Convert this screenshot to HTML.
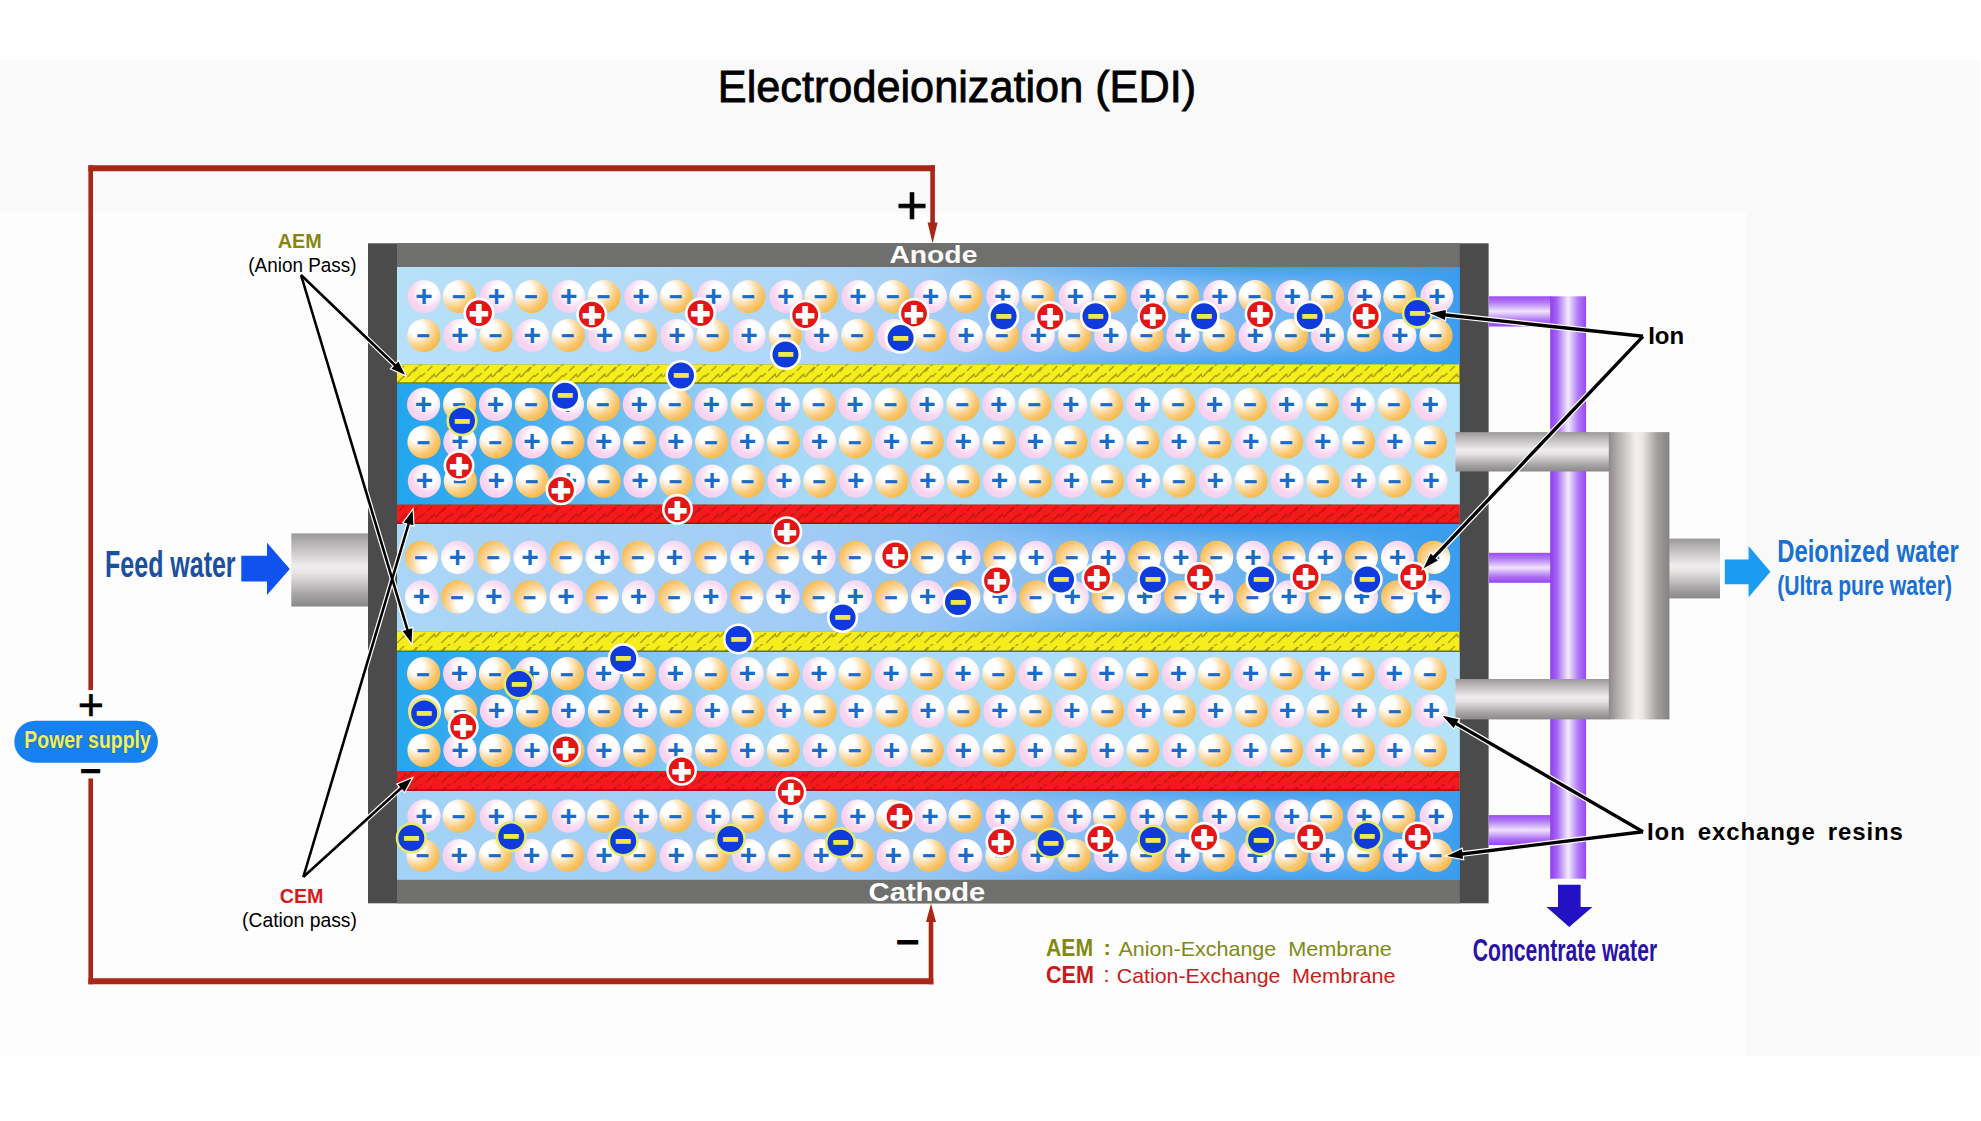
<!DOCTYPE html>
<html lang="en"><head><meta charset="utf-8"><title>Electrodeionization (EDI)</title>
<style>html,body{margin:0;padding:0;background:#fff}body{width:1981px;height:1121px;overflow:hidden}svg{display:block}text{font-family:"Liberation Sans",sans-serif}</style></head><body>
<svg width="1981" height="1121" viewBox="0 0 1981 1121">
<defs>
<radialGradient id="gp" cx="0.62" cy="0.36" r="0.62"><stop offset="0" stop-color="#fff"/><stop offset="0.38" stop-color="#fff"/><stop offset="0.8" stop-color="#f9d6f1"/><stop offset="1" stop-color="#f6d2ee"/></radialGradient>
<radialGradient id="gm" cx="0.3" cy="0.3" r="0.74"><stop offset="0" stop-color="#fff"/><stop offset="0.28" stop-color="#fff"/><stop offset="0.55" stop-color="#fce0b0"/><stop offset="0.78" stop-color="#fac874"/><stop offset="1" stop-color="#f8ba4e"/></radialGradient>
<radialGradient id="gp2" cx="0.38" cy="0.64" r="0.66"><stop offset="0" stop-color="#fff"/><stop offset="0.45" stop-color="#fff"/><stop offset="0.85" stop-color="#f9dcf2"/><stop offset="1" stop-color="#f7d6ef"/></radialGradient>
<radialGradient id="gm2" cx="0.7" cy="0.7" r="0.78"><stop offset="0" stop-color="#fff"/><stop offset="0.3" stop-color="#fff"/><stop offset="0.58" stop-color="#fbdca8"/><stop offset="0.84" stop-color="#f9c670"/><stop offset="1" stop-color="#f7ba52"/></radialGradient>
<linearGradient id="c1" x1="0" x2="1" y1="0" y2="0"><stop offset="0" stop-color="#b6e1f8"/><stop offset="0.4" stop-color="#b0d6f7"/><stop offset="0.6" stop-color="#98c8f5"/><stop offset="0.75" stop-color="#84bdf3"/><stop offset="0.9" stop-color="#6ab2f1"/><stop offset="0.97" stop-color="#4aa4ef"/><stop offset="1" stop-color="#3a9cee"/></linearGradient>
<linearGradient id="c2" x1="0" x2="1" y1="0" y2="0"><stop offset="0" stop-color="#20a6ee"/><stop offset="0.07" stop-color="#38a9ee"/><stop offset="0.15" stop-color="#52b1ef"/><stop offset="0.25" stop-color="#84c6f3"/><stop offset="0.38" stop-color="#a6d9f6"/><stop offset="1" stop-color="#b4e2f8"/></linearGradient>
<linearGradient id="c3" x1="0" x2="1" y1="0" y2="0"><stop offset="0" stop-color="#aad6f6"/><stop offset="0.35" stop-color="#a4cdf6"/><stop offset="0.55" stop-color="#92c3f4"/><stop offset="0.72" stop-color="#78b8f2"/><stop offset="0.88" stop-color="#62aef0"/><stop offset="0.96" stop-color="#46a2ee"/><stop offset="1" stop-color="#3a9cee"/></linearGradient>
<linearGradient id="c4" x1="0" x2="1" y1="0" y2="0"><stop offset="0" stop-color="#24a7ee"/><stop offset="0.07" stop-color="#3aaaee"/><stop offset="0.15" stop-color="#54b2ef"/><stop offset="0.25" stop-color="#86c7f3"/><stop offset="0.36" stop-color="#a8daf7"/><stop offset="1" stop-color="#b4e2f8"/></linearGradient>
<linearGradient id="c5" x1="0" x2="1" y1="0" y2="0"><stop offset="0" stop-color="#a2d3f6"/><stop offset="0.35" stop-color="#a2ccf5"/><stop offset="0.58" stop-color="#92c3f4"/><stop offset="0.75" stop-color="#7ebaf2"/><stop offset="0.9" stop-color="#66b0f0"/><stop offset="0.97" stop-color="#48a3ef"/><stop offset="1" stop-color="#3a9cee"/></linearGradient>
<linearGradient id="pgv" x1="0" x2="0" y1="0" y2="1"><stop offset="0" stop-color="#999797"/><stop offset="0.12" stop-color="#b3b1b1"/><stop offset="0.45" stop-color="#efeded"/><stop offset="0.55" stop-color="#e6e3e3"/><stop offset="0.85" stop-color="#a3a1a1"/><stop offset="1" stop-color="#8a8888"/></linearGradient>
<linearGradient id="pgh" x1="0" x2="1" y1="0" y2="0"><stop offset="0" stop-color="#8d8989"/><stop offset="0.15" stop-color="#b3afaf"/><stop offset="0.45" stop-color="#f6efef"/><stop offset="0.55" stop-color="#eee6e6"/><stop offset="0.8" stop-color="#a29e9e"/><stop offset="1" stop-color="#858282"/></linearGradient>
<linearGradient id="ppv" x1="0" x2="0" y1="0" y2="1"><stop offset="0" stop-color="#9a4cf2"/><stop offset="0.2" stop-color="#b27af5"/><stop offset="0.5" stop-color="#f1e4fd"/><stop offset="0.8" stop-color="#ad70f4"/><stop offset="1" stop-color="#9746f0"/></linearGradient>
<linearGradient id="pph" x1="0" x2="1" y1="0" y2="0"><stop offset="0" stop-color="#8e3ef0"/><stop offset="0.18" stop-color="#a462f3"/><stop offset="0.5" stop-color="#f4eafe"/><stop offset="0.78" stop-color="#b07af5"/><stop offset="1" stop-color="#9848f0"/></linearGradient>
<pattern id="ty" width="28.4" height="20" patternUnits="userSpaceOnUse" x="397" y="364"><path d="M0 19 L8 11 M6 14 l3 -4 l1 3 l3 -2 M12 11 L20 3 M17 8 l4 -5 M22 2 l3 -2 M16 19 L24 11 M24 13 l4 -4 M2 7 l5 -5" stroke="#5f5e00" stroke-width="1.1" fill="none" opacity="0.6"/></pattern>
<pattern id="tr" width="28.4" height="20" patternUnits="userSpaceOnUse" x="397" y="504"><path d="M0 19 L8 11 M6 14 l3 -4 l1 3 l3 -2 M12 11 L20 3 M17 8 l4 -5 M22 2 l3 -2 M16 19 L24 11 M24 13 l4 -4 M2 7 l5 -5" stroke="#a00a0a" stroke-width="1.1" fill="none" opacity="0.6"/></pattern>
<linearGradient id="ve" x1="0" x2="0" y1="0" y2="1"><stop offset="0" stop-color="#3a9cee" stop-opacity="0.85"/><stop offset="0.22" stop-color="#3a9cee" stop-opacity="0"/><stop offset="0.78" stop-color="#3a9cee" stop-opacity="0"/><stop offset="1" stop-color="#3a9cee" stop-opacity="0.85"/></linearGradient>
<linearGradient id="hm" x1="0" x2="1" y1="0" y2="0"><stop offset="0" stop-color="#000"/><stop offset="0.5" stop-color="#000"/><stop offset="0.8" stop-color="#fff"/><stop offset="1" stop-color="#fff"/></linearGradient>
<mask id="mk" maskUnits="userSpaceOnUse" x="397" y="243" width="1063" height="660"><rect x="397" y="243" width="1063" height="660" fill="url(#hm)"/></mask>
<filter id="soft" x="-5%" y="-5%" width="110%" height="110%"><feGaussianBlur stdDeviation="0.6"/></filter>
</defs>
<rect x="0" y="0" width="1981" height="1121" fill="#ffffff"/>
<rect x="0" y="60" width="1980" height="996" fill="#f9f9f9"/>
<rect x="0" y="212.5" width="1746" height="843.5" fill="#fdfdfd"/>
<path d="M90.7 690 V165.3 M932.6 165.3 V226 M90.7 778.5 V984.2 M931 984.2 V920" fill="none" stroke="#aa2616" stroke-width="4.6"/>
<path d="M88.4 168.3 H934.9 M88.4 981.3 H933.3" fill="none" stroke="#aa2616" stroke-width="6"/>
<path d="M927.6 222.5 L937.6 222.5 L932.6 243.5 Z" fill="#aa2616"/>
<path d="M926 922 L936 922 L931 903.5 Z" fill="#aa2616"/>
<rect x="1489" y="296.3" width="62" height="30.2" fill="url(#ppv)"/>
<rect x="1489" y="552.8" width="62" height="30" fill="url(#ppv)"/>
<rect x="1489" y="815.1" width="62" height="30" fill="url(#ppv)"/>
<rect x="1550.2" y="296.3" width="35.9" height="582.4" fill="url(#pph)"/>
<rect x="291.3" y="533.4" width="77" height="73.1" fill="url(#pgv)"/>
<rect x="1669" y="538.6" width="51" height="59.8" fill="url(#pgv)"/>
<rect x="368" y="243.3" width="1120.6" height="660" fill="#4b4b4b"/>
<rect x="397" y="243.3" width="1062.8" height="660" fill="#6f6f6d"/>
<rect x="397" y="267" width="1062.8" height="97.4" fill="url(#c1)"/>
<rect x="397" y="383.8" width="1062.8" height="120.8" fill="url(#c2)"/>
<rect x="397" y="524" width="1062.8" height="107.8" fill="url(#c3)"/>
<rect x="397" y="652" width="1062.8" height="119" fill="url(#c4)"/>
<rect x="397" y="790.8" width="1062.8" height="89" fill="url(#c5)"/>
<g mask="url(#mk)">
<rect x="397" y="267" width="1062.8" height="97.4" fill="url(#ve)"/>
<rect x="397" y="524" width="1062.8" height="107.8" fill="url(#ve)"/>
<rect x="397" y="790.8" width="1062.8" height="89" fill="url(#ve)"/>
</g>
<rect x="397" y="364.4" width="1062.3" height="19.4" fill="#f6ee1c"/>
<rect x="397" y="364.4" width="1062.3" height="19.4" fill="url(#ty)"/>
<rect x="397" y="382.3" width="1062.3" height="1.5" fill="#5d7a1a"/>
<rect x="397" y="504.6" width="1062.3" height="19.4" fill="#f21a1a"/>
<rect x="397" y="504.6" width="1062.3" height="19.4" fill="url(#tr)"/>
<rect x="397" y="522.5" width="1062.3" height="1.5" fill="#9c1414"/>
<rect x="397" y="631.8" width="1062.3" height="20.2" fill="#f6ee1c"/>
<rect x="397" y="631.8" width="1062.3" height="20.2" fill="url(#ty)"/>
<rect x="397" y="650.5" width="1062.3" height="1.5" fill="#5d7a1a"/>
<rect x="397" y="771" width="1062.3" height="19.8" fill="#f21a1a"/>
<rect x="397" y="771" width="1062.3" height="19.8" fill="url(#tr)"/>
<rect x="397" y="789.3" width="1062.3" height="1.5" fill="#9c1414"/>
<rect x="1455.5" y="432.1" width="154" height="39.4" fill="url(#pgv)"/>
<rect x="1455.5" y="679" width="154" height="40.4" fill="url(#pgv)"/>
<rect x="1608.8" y="432.1" width="60.6" height="287.3" fill="url(#pgh)"/>
<g filter="url(#soft)">
<circle cx="424" cy="296.5" r="16.6" fill="url(#gp)"/>
<circle cx="459.3" cy="296.5" r="16.6" fill="url(#gm)"/>
<circle cx="496.4" cy="296.5" r="16.6" fill="url(#gp)"/>
<circle cx="531.6" cy="296.5" r="16.6" fill="url(#gm)"/>
<circle cx="568.7" cy="296.5" r="16.6" fill="url(#gp)"/>
<circle cx="604" cy="296.5" r="16.6" fill="url(#gm)"/>
<circle cx="641" cy="296.5" r="16.6" fill="url(#gp)"/>
<circle cx="676.4" cy="296.5" r="16.6" fill="url(#gm)"/>
<circle cx="713.4" cy="296.5" r="16.6" fill="url(#gp)"/>
<circle cx="748.7" cy="296.5" r="16.6" fill="url(#gm)"/>
<circle cx="785.8" cy="296.5" r="16.6" fill="url(#gp)"/>
<circle cx="821" cy="296.5" r="16.6" fill="url(#gm)"/>
<circle cx="858.1" cy="296.5" r="16.6" fill="url(#gp)"/>
<circle cx="893.4" cy="296.5" r="16.6" fill="url(#gm)"/>
<circle cx="930.4" cy="296.5" r="16.6" fill="url(#gp)"/>
<circle cx="965.8" cy="296.5" r="16.6" fill="url(#gm)"/>
<circle cx="1002.8" cy="296.5" r="16.6" fill="url(#gp)"/>
<circle cx="1038.1" cy="296.5" r="16.6" fill="url(#gm)"/>
<circle cx="1075.2" cy="296.5" r="16.6" fill="url(#gp)"/>
<circle cx="1110.5" cy="296.5" r="16.6" fill="url(#gm)"/>
<circle cx="1147.5" cy="296.5" r="16.6" fill="url(#gp)"/>
<circle cx="1182.8" cy="296.5" r="16.6" fill="url(#gm)"/>
<circle cx="1219.8" cy="296.5" r="16.6" fill="url(#gp)"/>
<circle cx="1255.1" cy="296.5" r="16.6" fill="url(#gm)"/>
<circle cx="1292.2" cy="296.5" r="16.6" fill="url(#gp)"/>
<circle cx="1327.5" cy="296.5" r="16.6" fill="url(#gm)"/>
<circle cx="1364.5" cy="296.5" r="16.6" fill="url(#gp)"/>
<circle cx="1399.8" cy="296.5" r="16.6" fill="url(#gm)"/>
<circle cx="1436.9" cy="296.5" r="16.6" fill="url(#gp)"/>
<circle cx="423.8" cy="335.5" r="16.6" fill="url(#gm)"/>
<circle cx="459.9" cy="335.5" r="16.6" fill="url(#gp)"/>
<circle cx="496.1" cy="335.5" r="16.6" fill="url(#gm)"/>
<circle cx="532.2" cy="335.5" r="16.6" fill="url(#gp)"/>
<circle cx="568.4" cy="335.5" r="16.6" fill="url(#gm)"/>
<circle cx="604.5" cy="335.5" r="16.6" fill="url(#gp)"/>
<circle cx="640.7" cy="335.5" r="16.6" fill="url(#gm)"/>
<circle cx="676.9" cy="335.5" r="16.6" fill="url(#gp)"/>
<circle cx="713" cy="335.5" r="16.6" fill="url(#gm)"/>
<circle cx="749.1" cy="335.5" r="16.6" fill="url(#gp)"/>
<circle cx="785.3" cy="335.5" r="16.6" fill="url(#gm)"/>
<circle cx="821.5" cy="335.5" r="16.6" fill="url(#gp)"/>
<circle cx="857.6" cy="335.5" r="16.6" fill="url(#gm)"/>
<circle cx="893.8" cy="335.5" r="16.6" fill="url(#gp)"/>
<circle cx="929.9" cy="335.5" r="16.6" fill="url(#gm)"/>
<circle cx="966" cy="335.5" r="16.6" fill="url(#gp)"/>
<circle cx="1002.2" cy="335.5" r="16.6" fill="url(#gm)"/>
<circle cx="1038.3" cy="335.5" r="16.6" fill="url(#gp)"/>
<circle cx="1074.5" cy="335.5" r="16.6" fill="url(#gm)"/>
<circle cx="1110.7" cy="335.5" r="16.6" fill="url(#gp)"/>
<circle cx="1146.8" cy="335.5" r="16.6" fill="url(#gm)"/>
<circle cx="1183" cy="335.5" r="16.6" fill="url(#gp)"/>
<circle cx="1219.1" cy="335.5" r="16.6" fill="url(#gm)"/>
<circle cx="1255.2" cy="335.5" r="16.6" fill="url(#gp)"/>
<circle cx="1291.4" cy="335.5" r="16.6" fill="url(#gm)"/>
<circle cx="1327.5" cy="335.5" r="16.6" fill="url(#gp)"/>
<circle cx="1363.7" cy="335.5" r="16.6" fill="url(#gm)"/>
<circle cx="1399.8" cy="335.5" r="16.6" fill="url(#gp)"/>
<circle cx="1436" cy="335.5" r="16.6" fill="url(#gm)"/>
<circle cx="423.6" cy="404.4" r="16.6" fill="url(#gp)"/>
<circle cx="459.6" cy="404.4" r="16.6" fill="url(#gm)"/>
<circle cx="495.5" cy="404.4" r="16.6" fill="url(#gp)"/>
<circle cx="531.5" cy="404.4" r="16.6" fill="url(#gm)"/>
<circle cx="567.4" cy="404.4" r="16.6" fill="url(#gp)"/>
<circle cx="603.4" cy="404.4" r="16.6" fill="url(#gm)"/>
<circle cx="639.3" cy="404.4" r="16.6" fill="url(#gp)"/>
<circle cx="675.2" cy="404.4" r="16.6" fill="url(#gm)"/>
<circle cx="711.2" cy="404.4" r="16.6" fill="url(#gp)"/>
<circle cx="747.2" cy="404.4" r="16.6" fill="url(#gm)"/>
<circle cx="783.1" cy="404.4" r="16.6" fill="url(#gp)"/>
<circle cx="819.1" cy="404.4" r="16.6" fill="url(#gm)"/>
<circle cx="855" cy="404.4" r="16.6" fill="url(#gp)"/>
<circle cx="891" cy="404.4" r="16.6" fill="url(#gm)"/>
<circle cx="926.9" cy="404.4" r="16.6" fill="url(#gp)"/>
<circle cx="962.9" cy="404.4" r="16.6" fill="url(#gm)"/>
<circle cx="998.8" cy="404.4" r="16.6" fill="url(#gp)"/>
<circle cx="1034.8" cy="404.4" r="16.6" fill="url(#gm)"/>
<circle cx="1070.7" cy="404.4" r="16.6" fill="url(#gp)"/>
<circle cx="1106.7" cy="404.4" r="16.6" fill="url(#gm)"/>
<circle cx="1142.6" cy="404.4" r="16.6" fill="url(#gp)"/>
<circle cx="1178.6" cy="404.4" r="16.6" fill="url(#gm)"/>
<circle cx="1214.5" cy="404.4" r="16.6" fill="url(#gp)"/>
<circle cx="1250.5" cy="404.4" r="16.6" fill="url(#gm)"/>
<circle cx="1286.4" cy="404.4" r="16.6" fill="url(#gp)"/>
<circle cx="1322.4" cy="404.4" r="16.6" fill="url(#gm)"/>
<circle cx="1358.3" cy="404.4" r="16.6" fill="url(#gp)"/>
<circle cx="1394.2" cy="404.4" r="16.6" fill="url(#gm)"/>
<circle cx="1430.2" cy="404.4" r="16.6" fill="url(#gp)"/>
<circle cx="424" cy="442" r="16.6" fill="url(#gm)"/>
<circle cx="459.9" cy="442" r="16.6" fill="url(#gp)"/>
<circle cx="495.9" cy="442" r="16.6" fill="url(#gm)"/>
<circle cx="531.9" cy="442" r="16.6" fill="url(#gp)"/>
<circle cx="567.8" cy="442" r="16.6" fill="url(#gm)"/>
<circle cx="603.8" cy="442" r="16.6" fill="url(#gp)"/>
<circle cx="639.7" cy="442" r="16.6" fill="url(#gm)"/>
<circle cx="675.7" cy="442" r="16.6" fill="url(#gp)"/>
<circle cx="711.6" cy="442" r="16.6" fill="url(#gm)"/>
<circle cx="747.5" cy="442" r="16.6" fill="url(#gp)"/>
<circle cx="783.5" cy="442" r="16.6" fill="url(#gm)"/>
<circle cx="819.5" cy="442" r="16.6" fill="url(#gp)"/>
<circle cx="855.4" cy="442" r="16.6" fill="url(#gm)"/>
<circle cx="891.4" cy="442" r="16.6" fill="url(#gp)"/>
<circle cx="927.3" cy="442" r="16.6" fill="url(#gm)"/>
<circle cx="963.2" cy="442" r="16.6" fill="url(#gp)"/>
<circle cx="999.2" cy="442" r="16.6" fill="url(#gm)"/>
<circle cx="1035.2" cy="442" r="16.6" fill="url(#gp)"/>
<circle cx="1071.1" cy="442" r="16.6" fill="url(#gm)"/>
<circle cx="1107.1" cy="442" r="16.6" fill="url(#gp)"/>
<circle cx="1143" cy="442" r="16.6" fill="url(#gm)"/>
<circle cx="1179" cy="442" r="16.6" fill="url(#gp)"/>
<circle cx="1214.9" cy="442" r="16.6" fill="url(#gm)"/>
<circle cx="1250.8" cy="442" r="16.6" fill="url(#gp)"/>
<circle cx="1286.8" cy="442" r="16.6" fill="url(#gm)"/>
<circle cx="1322.8" cy="442" r="16.6" fill="url(#gp)"/>
<circle cx="1358.7" cy="442" r="16.6" fill="url(#gm)"/>
<circle cx="1394.7" cy="442" r="16.6" fill="url(#gp)"/>
<circle cx="1430.6" cy="442" r="16.6" fill="url(#gm)"/>
<circle cx="424.4" cy="481.1" r="16.6" fill="url(#gp)"/>
<circle cx="460.3" cy="481.1" r="16.6" fill="url(#gm)"/>
<circle cx="496.3" cy="481.1" r="16.6" fill="url(#gp)"/>
<circle cx="532.2" cy="481.1" r="16.6" fill="url(#gm)"/>
<circle cx="568.2" cy="481.1" r="16.6" fill="url(#gp)"/>
<circle cx="604.1" cy="481.1" r="16.6" fill="url(#gm)"/>
<circle cx="640.1" cy="481.1" r="16.6" fill="url(#gp)"/>
<circle cx="676" cy="481.1" r="16.6" fill="url(#gm)"/>
<circle cx="712" cy="481.1" r="16.6" fill="url(#gp)"/>
<circle cx="748" cy="481.1" r="16.6" fill="url(#gm)"/>
<circle cx="783.9" cy="481.1" r="16.6" fill="url(#gp)"/>
<circle cx="819.9" cy="481.1" r="16.6" fill="url(#gm)"/>
<circle cx="855.8" cy="481.1" r="16.6" fill="url(#gp)"/>
<circle cx="891.8" cy="481.1" r="16.6" fill="url(#gm)"/>
<circle cx="927.7" cy="481.1" r="16.6" fill="url(#gp)"/>
<circle cx="963.6" cy="481.1" r="16.6" fill="url(#gm)"/>
<circle cx="999.6" cy="481.1" r="16.6" fill="url(#gp)"/>
<circle cx="1035.6" cy="481.1" r="16.6" fill="url(#gm)"/>
<circle cx="1071.5" cy="481.1" r="16.6" fill="url(#gp)"/>
<circle cx="1107.5" cy="481.1" r="16.6" fill="url(#gm)"/>
<circle cx="1143.4" cy="481.1" r="16.6" fill="url(#gp)"/>
<circle cx="1179.3" cy="481.1" r="16.6" fill="url(#gm)"/>
<circle cx="1215.3" cy="481.1" r="16.6" fill="url(#gp)"/>
<circle cx="1251.2" cy="481.1" r="16.6" fill="url(#gm)"/>
<circle cx="1287.2" cy="481.1" r="16.6" fill="url(#gp)"/>
<circle cx="1323.2" cy="481.1" r="16.6" fill="url(#gm)"/>
<circle cx="1359.1" cy="481.1" r="16.6" fill="url(#gp)"/>
<circle cx="1395.1" cy="481.1" r="16.6" fill="url(#gm)"/>
<circle cx="1431" cy="481.1" r="16.6" fill="url(#gp)"/>
<circle cx="421.5" cy="557.3" r="16.6" fill="url(#gm2)"/>
<circle cx="457.6" cy="557.3" r="16.6" fill="url(#gp2)"/>
<circle cx="493.8" cy="557.3" r="16.6" fill="url(#gm2)"/>
<circle cx="530" cy="557.3" r="16.6" fill="url(#gp2)"/>
<circle cx="566.1" cy="557.3" r="16.6" fill="url(#gm2)"/>
<circle cx="602.2" cy="557.3" r="16.6" fill="url(#gp2)"/>
<circle cx="638.4" cy="557.3" r="16.6" fill="url(#gm2)"/>
<circle cx="674.5" cy="557.3" r="16.6" fill="url(#gp2)"/>
<circle cx="710.7" cy="557.3" r="16.6" fill="url(#gm2)"/>
<circle cx="746.8" cy="557.3" r="16.6" fill="url(#gp2)"/>
<circle cx="783" cy="557.3" r="16.6" fill="url(#gm2)"/>
<circle cx="819.1" cy="557.3" r="16.6" fill="url(#gp2)"/>
<circle cx="855.3" cy="557.3" r="16.6" fill="url(#gm2)"/>
<circle cx="891.5" cy="557.3" r="16.6" fill="url(#gp2)"/>
<circle cx="927.6" cy="557.3" r="16.6" fill="url(#gm2)"/>
<circle cx="963.8" cy="557.3" r="16.6" fill="url(#gp2)"/>
<circle cx="999.9" cy="557.3" r="16.6" fill="url(#gm2)"/>
<circle cx="1036" cy="557.3" r="16.6" fill="url(#gp2)"/>
<circle cx="1072.2" cy="557.3" r="16.6" fill="url(#gm2)"/>
<circle cx="1108.3" cy="557.3" r="16.6" fill="url(#gp2)"/>
<circle cx="1144.5" cy="557.3" r="16.6" fill="url(#gm2)"/>
<circle cx="1180.7" cy="557.3" r="16.6" fill="url(#gp2)"/>
<circle cx="1216.8" cy="557.3" r="16.6" fill="url(#gm2)"/>
<circle cx="1252.9" cy="557.3" r="16.6" fill="url(#gp2)"/>
<circle cx="1289.1" cy="557.3" r="16.6" fill="url(#gm2)"/>
<circle cx="1325.2" cy="557.3" r="16.6" fill="url(#gp2)"/>
<circle cx="1361.4" cy="557.3" r="16.6" fill="url(#gm2)"/>
<circle cx="1397.5" cy="557.3" r="16.6" fill="url(#gp2)"/>
<circle cx="1433.7" cy="557.3" r="16.6" fill="url(#gm2)"/>
<circle cx="421.5" cy="596.9" r="16.6" fill="url(#gp2)"/>
<circle cx="457.6" cy="596.9" r="16.6" fill="url(#gm2)"/>
<circle cx="493.8" cy="596.9" r="16.6" fill="url(#gp2)"/>
<circle cx="530" cy="596.9" r="16.6" fill="url(#gm2)"/>
<circle cx="566.1" cy="596.9" r="16.6" fill="url(#gp2)"/>
<circle cx="602.2" cy="596.9" r="16.6" fill="url(#gm2)"/>
<circle cx="638.4" cy="596.9" r="16.6" fill="url(#gp2)"/>
<circle cx="674.5" cy="596.9" r="16.6" fill="url(#gm2)"/>
<circle cx="710.7" cy="596.9" r="16.6" fill="url(#gp2)"/>
<circle cx="746.8" cy="596.9" r="16.6" fill="url(#gm2)"/>
<circle cx="783" cy="596.9" r="16.6" fill="url(#gp2)"/>
<circle cx="819.1" cy="596.9" r="16.6" fill="url(#gm2)"/>
<circle cx="855.3" cy="596.9" r="16.6" fill="url(#gp2)"/>
<circle cx="891.5" cy="596.9" r="16.6" fill="url(#gm2)"/>
<circle cx="927.6" cy="596.9" r="16.6" fill="url(#gp2)"/>
<circle cx="963.8" cy="596.9" r="16.6" fill="url(#gm2)"/>
<circle cx="999.9" cy="596.9" r="16.6" fill="url(#gp2)"/>
<circle cx="1036" cy="596.9" r="16.6" fill="url(#gm2)"/>
<circle cx="1072.2" cy="596.9" r="16.6" fill="url(#gp2)"/>
<circle cx="1108.3" cy="596.9" r="16.6" fill="url(#gm2)"/>
<circle cx="1144.5" cy="596.9" r="16.6" fill="url(#gp2)"/>
<circle cx="1180.7" cy="596.9" r="16.6" fill="url(#gm2)"/>
<circle cx="1216.8" cy="596.9" r="16.6" fill="url(#gp2)"/>
<circle cx="1252.9" cy="596.9" r="16.6" fill="url(#gm2)"/>
<circle cx="1289.1" cy="596.9" r="16.6" fill="url(#gp2)"/>
<circle cx="1325.2" cy="596.9" r="16.6" fill="url(#gm2)"/>
<circle cx="1361.4" cy="596.9" r="16.6" fill="url(#gp2)"/>
<circle cx="1397.5" cy="596.9" r="16.6" fill="url(#gm2)"/>
<circle cx="1433.7" cy="596.9" r="16.6" fill="url(#gp2)"/>
<circle cx="423.6" cy="673.7" r="16.6" fill="url(#gm)"/>
<circle cx="459.6" cy="673.7" r="16.6" fill="url(#gp)"/>
<circle cx="495.5" cy="673.7" r="16.6" fill="url(#gm)"/>
<circle cx="531.5" cy="673.7" r="16.6" fill="url(#gp)"/>
<circle cx="567.4" cy="673.7" r="16.6" fill="url(#gm)"/>
<circle cx="603.4" cy="673.7" r="16.6" fill="url(#gp)"/>
<circle cx="639.3" cy="673.7" r="16.6" fill="url(#gm)"/>
<circle cx="675.2" cy="673.7" r="16.6" fill="url(#gp)"/>
<circle cx="711.2" cy="673.7" r="16.6" fill="url(#gm)"/>
<circle cx="747.2" cy="673.7" r="16.6" fill="url(#gp)"/>
<circle cx="783.1" cy="673.7" r="16.6" fill="url(#gm)"/>
<circle cx="819.1" cy="673.7" r="16.6" fill="url(#gp)"/>
<circle cx="855" cy="673.7" r="16.6" fill="url(#gm)"/>
<circle cx="891" cy="673.7" r="16.6" fill="url(#gp)"/>
<circle cx="926.9" cy="673.7" r="16.6" fill="url(#gm)"/>
<circle cx="962.9" cy="673.7" r="16.6" fill="url(#gp)"/>
<circle cx="998.8" cy="673.7" r="16.6" fill="url(#gm)"/>
<circle cx="1034.8" cy="673.7" r="16.6" fill="url(#gp)"/>
<circle cx="1070.7" cy="673.7" r="16.6" fill="url(#gm)"/>
<circle cx="1106.7" cy="673.7" r="16.6" fill="url(#gp)"/>
<circle cx="1142.6" cy="673.7" r="16.6" fill="url(#gm)"/>
<circle cx="1178.6" cy="673.7" r="16.6" fill="url(#gp)"/>
<circle cx="1214.5" cy="673.7" r="16.6" fill="url(#gm)"/>
<circle cx="1250.5" cy="673.7" r="16.6" fill="url(#gp)"/>
<circle cx="1286.4" cy="673.7" r="16.6" fill="url(#gm)"/>
<circle cx="1322.4" cy="673.7" r="16.6" fill="url(#gp)"/>
<circle cx="1358.3" cy="673.7" r="16.6" fill="url(#gm)"/>
<circle cx="1394.2" cy="673.7" r="16.6" fill="url(#gp)"/>
<circle cx="1430.2" cy="673.7" r="16.6" fill="url(#gm)"/>
<circle cx="424.6" cy="711" r="16.6" fill="url(#gp)"/>
<circle cx="460.6" cy="711" r="16.6" fill="url(#gm)"/>
<circle cx="496.5" cy="711" r="16.6" fill="url(#gp)"/>
<circle cx="532.5" cy="711" r="16.6" fill="url(#gm)"/>
<circle cx="568.4" cy="711" r="16.6" fill="url(#gp)"/>
<circle cx="604.4" cy="711" r="16.6" fill="url(#gm)"/>
<circle cx="640.3" cy="711" r="16.6" fill="url(#gp)"/>
<circle cx="676.2" cy="711" r="16.6" fill="url(#gm)"/>
<circle cx="712.2" cy="711" r="16.6" fill="url(#gp)"/>
<circle cx="748.2" cy="711" r="16.6" fill="url(#gm)"/>
<circle cx="784.1" cy="711" r="16.6" fill="url(#gp)"/>
<circle cx="820.1" cy="711" r="16.6" fill="url(#gm)"/>
<circle cx="856" cy="711" r="16.6" fill="url(#gp)"/>
<circle cx="892" cy="711" r="16.6" fill="url(#gm)"/>
<circle cx="927.9" cy="711" r="16.6" fill="url(#gp)"/>
<circle cx="963.9" cy="711" r="16.6" fill="url(#gm)"/>
<circle cx="999.8" cy="711" r="16.6" fill="url(#gp)"/>
<circle cx="1035.8" cy="711" r="16.6" fill="url(#gm)"/>
<circle cx="1071.7" cy="711" r="16.6" fill="url(#gp)"/>
<circle cx="1107.7" cy="711" r="16.6" fill="url(#gm)"/>
<circle cx="1143.6" cy="711" r="16.6" fill="url(#gp)"/>
<circle cx="1179.6" cy="711" r="16.6" fill="url(#gm)"/>
<circle cx="1215.5" cy="711" r="16.6" fill="url(#gp)"/>
<circle cx="1251.5" cy="711" r="16.6" fill="url(#gm)"/>
<circle cx="1287.4" cy="711" r="16.6" fill="url(#gp)"/>
<circle cx="1323.4" cy="711" r="16.6" fill="url(#gm)"/>
<circle cx="1359.3" cy="711" r="16.6" fill="url(#gp)"/>
<circle cx="1395.2" cy="711" r="16.6" fill="url(#gm)"/>
<circle cx="1431.2" cy="711" r="16.6" fill="url(#gp)"/>
<circle cx="424" cy="750.3" r="16.6" fill="url(#gm)"/>
<circle cx="459.9" cy="750.3" r="16.6" fill="url(#gp)"/>
<circle cx="495.9" cy="750.3" r="16.6" fill="url(#gm)"/>
<circle cx="531.9" cy="750.3" r="16.6" fill="url(#gp)"/>
<circle cx="567.8" cy="750.3" r="16.6" fill="url(#gm)"/>
<circle cx="603.8" cy="750.3" r="16.6" fill="url(#gp)"/>
<circle cx="639.7" cy="750.3" r="16.6" fill="url(#gm)"/>
<circle cx="675.7" cy="750.3" r="16.6" fill="url(#gp)"/>
<circle cx="711.6" cy="750.3" r="16.6" fill="url(#gm)"/>
<circle cx="747.5" cy="750.3" r="16.6" fill="url(#gp)"/>
<circle cx="783.5" cy="750.3" r="16.6" fill="url(#gm)"/>
<circle cx="819.5" cy="750.3" r="16.6" fill="url(#gp)"/>
<circle cx="855.4" cy="750.3" r="16.6" fill="url(#gm)"/>
<circle cx="891.4" cy="750.3" r="16.6" fill="url(#gp)"/>
<circle cx="927.3" cy="750.3" r="16.6" fill="url(#gm)"/>
<circle cx="963.2" cy="750.3" r="16.6" fill="url(#gp)"/>
<circle cx="999.2" cy="750.3" r="16.6" fill="url(#gm)"/>
<circle cx="1035.2" cy="750.3" r="16.6" fill="url(#gp)"/>
<circle cx="1071.1" cy="750.3" r="16.6" fill="url(#gm)"/>
<circle cx="1107.1" cy="750.3" r="16.6" fill="url(#gp)"/>
<circle cx="1143" cy="750.3" r="16.6" fill="url(#gm)"/>
<circle cx="1179" cy="750.3" r="16.6" fill="url(#gp)"/>
<circle cx="1214.9" cy="750.3" r="16.6" fill="url(#gm)"/>
<circle cx="1250.8" cy="750.3" r="16.6" fill="url(#gp)"/>
<circle cx="1286.8" cy="750.3" r="16.6" fill="url(#gm)"/>
<circle cx="1322.8" cy="750.3" r="16.6" fill="url(#gp)"/>
<circle cx="1358.7" cy="750.3" r="16.6" fill="url(#gm)"/>
<circle cx="1394.7" cy="750.3" r="16.6" fill="url(#gp)"/>
<circle cx="1430.6" cy="750.3" r="16.6" fill="url(#gm)"/>
<circle cx="424" cy="816.2" r="16.6" fill="url(#gp)"/>
<circle cx="459" cy="816.2" r="16.6" fill="url(#gm)"/>
<circle cx="496.3" cy="816.2" r="16.6" fill="url(#gp)"/>
<circle cx="531.3" cy="816.2" r="16.6" fill="url(#gm)"/>
<circle cx="568.6" cy="816.2" r="16.6" fill="url(#gp)"/>
<circle cx="603.6" cy="816.2" r="16.6" fill="url(#gm)"/>
<circle cx="640.9" cy="816.2" r="16.6" fill="url(#gp)"/>
<circle cx="675.9" cy="816.2" r="16.6" fill="url(#gm)"/>
<circle cx="713.2" cy="816.2" r="16.6" fill="url(#gp)"/>
<circle cx="748.2" cy="816.2" r="16.6" fill="url(#gm)"/>
<circle cx="785.5" cy="816.2" r="16.6" fill="url(#gp)"/>
<circle cx="820.5" cy="816.2" r="16.6" fill="url(#gm)"/>
<circle cx="857.8" cy="816.2" r="16.6" fill="url(#gp)"/>
<circle cx="892.8" cy="816.2" r="16.6" fill="url(#gm)"/>
<circle cx="930.1" cy="816.2" r="16.6" fill="url(#gp)"/>
<circle cx="965.1" cy="816.2" r="16.6" fill="url(#gm)"/>
<circle cx="1002.4" cy="816.2" r="16.6" fill="url(#gp)"/>
<circle cx="1037.4" cy="816.2" r="16.6" fill="url(#gm)"/>
<circle cx="1074.7" cy="816.2" r="16.6" fill="url(#gp)"/>
<circle cx="1109.7" cy="816.2" r="16.6" fill="url(#gm)"/>
<circle cx="1147" cy="816.2" r="16.6" fill="url(#gp)"/>
<circle cx="1182" cy="816.2" r="16.6" fill="url(#gm)"/>
<circle cx="1219.3" cy="816.2" r="16.6" fill="url(#gp)"/>
<circle cx="1254.3" cy="816.2" r="16.6" fill="url(#gm)"/>
<circle cx="1291.6" cy="816.2" r="16.6" fill="url(#gp)"/>
<circle cx="1326.6" cy="816.2" r="16.6" fill="url(#gm)"/>
<circle cx="1363.9" cy="816.2" r="16.6" fill="url(#gp)"/>
<circle cx="1398.9" cy="816.2" r="16.6" fill="url(#gm)"/>
<circle cx="1436.2" cy="816.2" r="16.6" fill="url(#gp)"/>
<circle cx="423" cy="855.5" r="16.6" fill="url(#gm)"/>
<circle cx="459.2" cy="855.5" r="16.6" fill="url(#gp)"/>
<circle cx="495.4" cy="855.5" r="16.6" fill="url(#gm)"/>
<circle cx="531.5" cy="855.5" r="16.6" fill="url(#gp)"/>
<circle cx="567.7" cy="855.5" r="16.6" fill="url(#gm)"/>
<circle cx="603.9" cy="855.5" r="16.6" fill="url(#gp)"/>
<circle cx="640.1" cy="855.5" r="16.6" fill="url(#gm)"/>
<circle cx="676.3" cy="855.5" r="16.6" fill="url(#gp)"/>
<circle cx="712.4" cy="855.5" r="16.6" fill="url(#gm)"/>
<circle cx="748.6" cy="855.5" r="16.6" fill="url(#gp)"/>
<circle cx="784.8" cy="855.5" r="16.6" fill="url(#gm)"/>
<circle cx="821" cy="855.5" r="16.6" fill="url(#gp)"/>
<circle cx="857.2" cy="855.5" r="16.6" fill="url(#gm)"/>
<circle cx="893.3" cy="855.5" r="16.6" fill="url(#gp)"/>
<circle cx="929.5" cy="855.5" r="16.6" fill="url(#gm)"/>
<circle cx="965.7" cy="855.5" r="16.6" fill="url(#gp)"/>
<circle cx="1001.9" cy="855.5" r="16.6" fill="url(#gm)"/>
<circle cx="1038.1" cy="855.5" r="16.6" fill="url(#gp)"/>
<circle cx="1074.2" cy="855.5" r="16.6" fill="url(#gm)"/>
<circle cx="1110.4" cy="855.5" r="16.6" fill="url(#gp)"/>
<circle cx="1146.6" cy="855.5" r="16.6" fill="url(#gm)"/>
<circle cx="1182.8" cy="855.5" r="16.6" fill="url(#gp)"/>
<circle cx="1219" cy="855.5" r="16.6" fill="url(#gm)"/>
<circle cx="1255.1" cy="855.5" r="16.6" fill="url(#gp)"/>
<circle cx="1291.3" cy="855.5" r="16.6" fill="url(#gm)"/>
<circle cx="1327.5" cy="855.5" r="16.6" fill="url(#gp)"/>
<circle cx="1363.7" cy="855.5" r="16.6" fill="url(#gm)"/>
<circle cx="1399.9" cy="855.5" r="16.6" fill="url(#gp)"/>
<circle cx="1436" cy="855.5" r="16.6" fill="url(#gm)"/>
</g>
<text x="424 496.4 568.7 641 713.4 785.8 858.1 930.4 1002.8 1075.2 1147.5 1219.8 1292.2 1364.5 1436.9" y="305.8" font-size="30" font-weight="bold" fill="#1b6bc9" text-anchor="middle">+++++++++++++++</text>
<text x="458.7 531 603.4 675.8 748.1 820.4 892.8 965.1 1037.5 1109.9 1182.2 1254.5 1326.9 1399.2" y="304.3" font-size="22" font-weight="bold" fill="#1b6bc9" stroke="#1b6bc9" stroke-width="0.7" text-anchor="middle">−−−−−−−−−−−−−−</text>
<text x="459.9 532.2 604.5 676.9 749.1 821.5 893.8 966 1038.3 1110.7 1183 1255.2 1327.5 1399.8" y="344.8" font-size="30" font-weight="bold" fill="#1b6bc9" text-anchor="middle">++++++++++++++</text>
<text x="423.2 495.5 567.8 640.1 712.4 784.7 857 929.3 1001.6 1073.9 1146.2 1218.5 1290.8 1363.1 1435.4" y="343.3" font-size="22" font-weight="bold" fill="#1b6bc9" stroke="#1b6bc9" stroke-width="0.7" text-anchor="middle">−−−−−−−−−−−−−−−</text>
<text x="423.6 495.5 567.4 639.3 711.2 783.1 855 926.9 998.8 1070.7 1142.6 1214.5 1286.4 1358.3 1430.2" y="413.7" font-size="30" font-weight="bold" fill="#1b6bc9" text-anchor="middle">+++++++++++++++</text>
<text x="458.9 530.9 602.8 674.6 746.6 818.5 890.4 962.2 1034.2 1106.1 1178 1249.9 1321.8 1393.7" y="412.2" font-size="22" font-weight="bold" fill="#1b6bc9" stroke="#1b6bc9" stroke-width="0.7" text-anchor="middle">−−−−−−−−−−−−−−</text>
<text x="459.9 531.9 603.8 675.7 747.5 819.5 891.4 963.2 1035.2 1107.1 1179 1250.8 1322.8 1394.7" y="451.3" font-size="30" font-weight="bold" fill="#1b6bc9" text-anchor="middle">++++++++++++++</text>
<text x="423.4 495.3 567.2 639.1 711 782.9 854.8 926.7 998.6 1070.5 1142.4 1214.3 1286.2 1358.1 1430" y="449.8" font-size="22" font-weight="bold" fill="#1b6bc9" stroke="#1b6bc9" stroke-width="0.7" text-anchor="middle">−−−−−−−−−−−−−−−</text>
<text x="424.4 496.3 568.2 640.1 712 783.9 855.8 927.7 999.6 1071.5 1143.4 1215.3 1287.2 1359.1 1431" y="490.4" font-size="30" font-weight="bold" fill="#1b6bc9" text-anchor="middle">+++++++++++++++</text>
<text x="459.7 531.6 603.5 675.4 747.4 819.2 891.1 963 1035 1106.9 1178.8 1250.7 1322.6 1394.5" y="488.9" font-size="22" font-weight="bold" fill="#1b6bc9" stroke="#1b6bc9" stroke-width="0.7" text-anchor="middle">−−−−−−−−−−−−−−</text>
<text x="457.6 530 602.2 674.5 746.8 819.1 891.5 963.8 1036 1108.3 1180.7 1252.9 1325.2 1397.5" y="566.6" font-size="30" font-weight="bold" fill="#1b6bc9" text-anchor="middle">++++++++++++++</text>
<text x="420.9 493.2 565.5 637.8 710.1 782.4 854.7 927 999.3 1071.6 1143.9 1216.2 1288.5 1360.8 1433.1" y="565.1" font-size="22" font-weight="bold" fill="#1b6bc9" stroke="#1b6bc9" stroke-width="0.7" text-anchor="middle">−−−−−−−−−−−−−−−</text>
<text x="421.5 493.8 566.1 638.4 710.7 783 855.3 927.6 999.9 1072.2 1144.5 1216.8 1289.1 1361.4 1433.7" y="606.2" font-size="30" font-weight="bold" fill="#1b6bc9" text-anchor="middle">+++++++++++++++</text>
<text x="457 529.4 601.6 673.9 746.2 818.5 890.9 963.1 1035.5 1107.8 1180.1 1252.3 1324.7 1397" y="604.7" font-size="22" font-weight="bold" fill="#1b6bc9" stroke="#1b6bc9" stroke-width="0.7" text-anchor="middle">−−−−−−−−−−−−−−</text>
<text x="459.6 531.5 603.4 675.2 747.2 819.1 891 962.9 1034.8 1106.7 1178.6 1250.5 1322.4 1394.2" y="683" font-size="30" font-weight="bold" fill="#1b6bc9" text-anchor="middle">++++++++++++++</text>
<text x="423 494.9 566.8 638.7 710.6 782.5 854.4 926.3 998.2 1070.1 1142 1213.9 1285.8 1357.7 1429.6" y="681.5" font-size="22" font-weight="bold" fill="#1b6bc9" stroke="#1b6bc9" stroke-width="0.7" text-anchor="middle">−−−−−−−−−−−−−−−</text>
<text x="424.6 496.5 568.4 640.3 712.2 784.1 856 927.9 999.8 1071.7 1143.6 1215.5 1287.4 1359.3 1431.2" y="720.3" font-size="30" font-weight="bold" fill="#1b6bc9" text-anchor="middle">+++++++++++++++</text>
<text x="459.9 531.9 603.8 675.6 747.6 819.5 891.4 963.2 1035.2 1107.1 1179 1250.9 1322.8 1394.7" y="718.8" font-size="22" font-weight="bold" fill="#1b6bc9" stroke="#1b6bc9" stroke-width="0.7" text-anchor="middle">−−−−−−−−−−−−−−</text>
<text x="459.9 531.9 603.8 675.7 747.5 819.5 891.4 963.2 1035.2 1107.1 1179 1250.8 1322.8 1394.7" y="759.6" font-size="30" font-weight="bold" fill="#1b6bc9" text-anchor="middle">++++++++++++++</text>
<text x="423.4 495.3 567.2 639.1 711 782.9 854.8 926.7 998.6 1070.5 1142.4 1214.3 1286.2 1358.1 1430" y="758.1" font-size="22" font-weight="bold" fill="#1b6bc9" stroke="#1b6bc9" stroke-width="0.7" text-anchor="middle">−−−−−−−−−−−−−−−</text>
<text x="424 496.3 568.6 640.9 713.2 785.5 857.8 930.1 1002.4 1074.7 1147 1219.3 1291.6 1363.9 1436.2" y="825.5" font-size="30" font-weight="bold" fill="#1b6bc9" text-anchor="middle">+++++++++++++++</text>
<text x="458.4 530.7 603 675.3 747.6 819.9 892.2 964.5 1036.8 1109.1 1181.4 1253.7 1326 1398.3" y="824" font-size="22" font-weight="bold" fill="#1b6bc9" stroke="#1b6bc9" stroke-width="0.7" text-anchor="middle">−−−−−−−−−−−−−−</text>
<text x="459.2 531.5 603.9 676.3 748.6 821 893.3 965.7 1038.1 1110.4 1182.8 1255.1 1327.5 1399.9" y="864.8" font-size="30" font-weight="bold" fill="#1b6bc9" text-anchor="middle">++++++++++++++</text>
<text x="422.4 494.8 567.1 639.5 711.8 784.2 856.6 928.9 1001.3 1073.6 1146 1218.4 1290.7 1363.1 1435.4" y="863.3" font-size="22" font-weight="bold" fill="#1b6bc9" stroke="#1b6bc9" stroke-width="0.7" text-anchor="middle">−−−−−−−−−−−−−−−</text>
<circle cx="479" cy="313.1" r="14.2" fill="#e31515" stroke="#fff" stroke-width="2.6"/>
<text x="479" y="325.3" font-size="33" font-weight="bold" fill="#fff" stroke="#fff" stroke-width="1.8" text-anchor="middle">+</text>
<circle cx="591.8" cy="314.7" r="14.2" fill="#e31515" stroke="#fff" stroke-width="2.6"/>
<text x="591.8" y="326.9" font-size="33" font-weight="bold" fill="#fff" stroke="#fff" stroke-width="1.8" text-anchor="middle">+</text>
<circle cx="700.5" cy="313.1" r="14.2" fill="#e31515" stroke="#fff" stroke-width="2.6"/>
<text x="700.5" y="325.3" font-size="33" font-weight="bold" fill="#fff" stroke="#fff" stroke-width="1.8" text-anchor="middle">+</text>
<circle cx="805.2" cy="315.1" r="14.2" fill="#e31515" stroke="#fff" stroke-width="2.6"/>
<text x="805.2" y="327.3" font-size="33" font-weight="bold" fill="#fff" stroke="#fff" stroke-width="1.8" text-anchor="middle">+</text>
<circle cx="914" cy="313.5" r="14.2" fill="#e31515" stroke="#fff" stroke-width="2.6"/>
<text x="914" y="325.7" font-size="33" font-weight="bold" fill="#fff" stroke="#fff" stroke-width="1.8" text-anchor="middle">+</text>
<circle cx="785.5" cy="354.5" r="14.3" fill="#0f3bdc" stroke="#fff" stroke-width="2.6"/>
<text x="785.5" y="363.2" font-size="26" font-weight="bold" fill="#efe84f" stroke="#efe84f" stroke-width="1.8" text-anchor="middle">−</text>
<circle cx="900.6" cy="338.1" r="14.3" fill="#0f3bdc" stroke="#fff" stroke-width="2.6"/>
<text x="900.6" y="346.8" font-size="26" font-weight="bold" fill="#efe84f" stroke="#efe84f" stroke-width="1.8" text-anchor="middle">−</text>
<circle cx="1003.6" cy="316.2" r="14.3" fill="#0f3bdc" stroke="#fff" stroke-width="2.6"/>
<text x="1003.6" y="324.9" font-size="26" font-weight="bold" fill="#efe84f" stroke="#efe84f" stroke-width="1.8" text-anchor="middle">−</text>
<circle cx="1050.2" cy="316.6" r="14.2" fill="#e31515" stroke="#fff" stroke-width="2.6"/>
<text x="1050.2" y="328.8" font-size="33" font-weight="bold" fill="#fff" stroke="#fff" stroke-width="1.8" text-anchor="middle">+</text>
<circle cx="1095.5" cy="316.2" r="14.3" fill="#0f3bdc" stroke="#fff" stroke-width="2.6"/>
<text x="1095.5" y="324.9" font-size="26" font-weight="bold" fill="#efe84f" stroke="#efe84f" stroke-width="1.8" text-anchor="middle">−</text>
<circle cx="1152.8" cy="316.2" r="14.2" fill="#e31515" stroke="#fff" stroke-width="2.6"/>
<text x="1152.8" y="328.4" font-size="33" font-weight="bold" fill="#fff" stroke="#fff" stroke-width="1.8" text-anchor="middle">+</text>
<circle cx="1204.1" cy="316.2" r="14.3" fill="#0f3bdc" stroke="#fff" stroke-width="2.6"/>
<text x="1204.1" y="324.9" font-size="26" font-weight="bold" fill="#efe84f" stroke="#efe84f" stroke-width="1.8" text-anchor="middle">−</text>
<circle cx="1260.1" cy="314.1" r="14.2" fill="#e31515" stroke="#fff" stroke-width="2.6"/>
<text x="1260.1" y="326.3" font-size="33" font-weight="bold" fill="#fff" stroke="#fff" stroke-width="1.8" text-anchor="middle">+</text>
<circle cx="1309.7" cy="316.2" r="14.3" fill="#0f3bdc" stroke="#fff" stroke-width="2.6"/>
<text x="1309.7" y="324.9" font-size="26" font-weight="bold" fill="#efe84f" stroke="#efe84f" stroke-width="1.8" text-anchor="middle">−</text>
<circle cx="1365.7" cy="316.2" r="14.2" fill="#e31515" stroke="#fff" stroke-width="2.6"/>
<text x="1365.7" y="328.4" font-size="33" font-weight="bold" fill="#fff" stroke="#fff" stroke-width="1.8" text-anchor="middle">+</text>
<circle cx="1417.4" cy="313.1" r="14.3" fill="#0f3bdc" stroke="#e6ec6a" stroke-width="2.6"/>
<text x="1417.4" y="321.8" font-size="26" font-weight="bold" fill="#efe84f" stroke="#efe84f" stroke-width="1.8" text-anchor="middle">−</text>
<circle cx="681" cy="375.6" r="14.3" fill="#0f3bdc" stroke="#fff" stroke-width="2.6"/>
<text x="681" y="384.3" font-size="26" font-weight="bold" fill="#efe84f" stroke="#efe84f" stroke-width="1.8" text-anchor="middle">−</text>
<circle cx="565.1" cy="395.7" r="14.3" fill="#0f3bdc" stroke="#fff" stroke-width="2.6"/>
<text x="565.1" y="404.4" font-size="26" font-weight="bold" fill="#efe84f" stroke="#efe84f" stroke-width="1.8" text-anchor="middle">−</text>
<circle cx="462" cy="420.8" r="14.3" fill="#0f3bdc" stroke="#e6ec6a" stroke-width="2.6"/>
<text x="462" y="429.5" font-size="26" font-weight="bold" fill="#efe84f" stroke="#efe84f" stroke-width="1.8" text-anchor="middle">−</text>
<circle cx="459.1" cy="465.6" r="14.2" fill="#e31515" stroke="#fff" stroke-width="2.6"/>
<text x="459.1" y="477.8" font-size="33" font-weight="bold" fill="#fff" stroke="#fff" stroke-width="1.8" text-anchor="middle">+</text>
<circle cx="561" cy="489.8" r="14.2" fill="#e31515" stroke="#fff" stroke-width="2.6"/>
<text x="561" y="502" font-size="33" font-weight="bold" fill="#fff" stroke="#fff" stroke-width="1.8" text-anchor="middle">+</text>
<circle cx="677.5" cy="509.3" r="14.2" fill="#e31515" stroke="#fff" stroke-width="2.6"/>
<text x="677.5" y="521.5" font-size="33" font-weight="bold" fill="#fff" stroke="#fff" stroke-width="1.8" text-anchor="middle">+</text>
<circle cx="786.8" cy="531.7" r="14.2" fill="#e31515" stroke="#fff" stroke-width="2.6"/>
<text x="786.8" y="543.9" font-size="33" font-weight="bold" fill="#fff" stroke="#fff" stroke-width="1.8" text-anchor="middle">+</text>
<circle cx="895.3" cy="555.5" r="14.2" fill="#e31515" stroke="#fff" stroke-width="2.6"/>
<text x="895.3" y="567.7" font-size="33" font-weight="bold" fill="#fff" stroke="#fff" stroke-width="1.8" text-anchor="middle">+</text>
<circle cx="997" cy="580.5" r="14.2" fill="#e31515" stroke="#fff" stroke-width="2.6"/>
<text x="997" y="592.7" font-size="33" font-weight="bold" fill="#fff" stroke="#fff" stroke-width="1.8" text-anchor="middle">+</text>
<circle cx="1061" cy="579.5" r="14.3" fill="#0f3bdc" stroke="#fff" stroke-width="2.6"/>
<text x="1061" y="588.2" font-size="26" font-weight="bold" fill="#efe84f" stroke="#efe84f" stroke-width="1.8" text-anchor="middle">−</text>
<circle cx="1097" cy="577.8" r="14.2" fill="#e31515" stroke="#fff" stroke-width="2.6"/>
<text x="1097" y="590" font-size="33" font-weight="bold" fill="#fff" stroke="#fff" stroke-width="1.8" text-anchor="middle">+</text>
<circle cx="1152.8" cy="579.5" r="14.3" fill="#0f3bdc" stroke="#fff" stroke-width="2.6"/>
<text x="1152.8" y="588.2" font-size="26" font-weight="bold" fill="#efe84f" stroke="#efe84f" stroke-width="1.8" text-anchor="middle">−</text>
<circle cx="1200" cy="577.4" r="14.2" fill="#e31515" stroke="#fff" stroke-width="2.6"/>
<text x="1200" y="589.6" font-size="33" font-weight="bold" fill="#fff" stroke="#fff" stroke-width="1.8" text-anchor="middle">+</text>
<circle cx="1261.1" cy="579.5" r="14.3" fill="#0f3bdc" stroke="#fff" stroke-width="2.6"/>
<text x="1261.1" y="588.2" font-size="26" font-weight="bold" fill="#efe84f" stroke="#efe84f" stroke-width="1.8" text-anchor="middle">−</text>
<circle cx="1305.6" cy="577" r="14.2" fill="#e31515" stroke="#fff" stroke-width="2.6"/>
<text x="1305.6" y="589.2" font-size="33" font-weight="bold" fill="#fff" stroke="#fff" stroke-width="1.8" text-anchor="middle">+</text>
<circle cx="1367.2" cy="579.5" r="14.3" fill="#0f3bdc" stroke="#fff" stroke-width="2.6"/>
<text x="1367.2" y="588.2" font-size="26" font-weight="bold" fill="#efe84f" stroke="#efe84f" stroke-width="1.8" text-anchor="middle">−</text>
<circle cx="1413.3" cy="577" r="14.2" fill="#e31515" stroke="#fff" stroke-width="2.6"/>
<text x="1413.3" y="589.2" font-size="33" font-weight="bold" fill="#fff" stroke="#fff" stroke-width="1.8" text-anchor="middle">+</text>
<circle cx="958" cy="602" r="14.3" fill="#0f3bdc" stroke="#fff" stroke-width="2.6"/>
<text x="958" y="610.7" font-size="26" font-weight="bold" fill="#efe84f" stroke="#efe84f" stroke-width="1.8" text-anchor="middle">−</text>
<circle cx="842.6" cy="617.4" r="14.3" fill="#0f3bdc" stroke="#fff" stroke-width="2.6"/>
<text x="842.6" y="626.1" font-size="26" font-weight="bold" fill="#efe84f" stroke="#efe84f" stroke-width="1.8" text-anchor="middle">−</text>
<circle cx="738.5" cy="639" r="14.3" fill="#0f3bdc" stroke="#fff" stroke-width="2.6"/>
<text x="738.5" y="647.7" font-size="26" font-weight="bold" fill="#efe84f" stroke="#efe84f" stroke-width="1.8" text-anchor="middle">−</text>
<circle cx="623.2" cy="658.7" r="14.3" fill="#0f3bdc" stroke="#fff" stroke-width="2.6"/>
<text x="623.2" y="667.4" font-size="26" font-weight="bold" fill="#efe84f" stroke="#efe84f" stroke-width="1.8" text-anchor="middle">−</text>
<circle cx="519" cy="684.1" r="14.3" fill="#0f3bdc" stroke="#e6ec6a" stroke-width="2.6"/>
<text x="519" y="692.8" font-size="26" font-weight="bold" fill="#efe84f" stroke="#efe84f" stroke-width="1.8" text-anchor="middle">−</text>
<circle cx="424.2" cy="713.4" r="14.3" fill="#0f3bdc" stroke="#e6ec6a" stroke-width="2.6"/>
<text x="424.2" y="722.1" font-size="26" font-weight="bold" fill="#efe84f" stroke="#efe84f" stroke-width="1.8" text-anchor="middle">−</text>
<circle cx="463.2" cy="726.6" r="14.2" fill="#e31515" stroke="#fff" stroke-width="2.6"/>
<text x="463.2" y="738.8" font-size="33" font-weight="bold" fill="#fff" stroke="#fff" stroke-width="1.8" text-anchor="middle">+</text>
<circle cx="565.7" cy="749.3" r="14.2" fill="#e31515" stroke="#fff" stroke-width="2.6"/>
<text x="565.7" y="761.5" font-size="33" font-weight="bold" fill="#fff" stroke="#fff" stroke-width="1.8" text-anchor="middle">+</text>
<circle cx="681.6" cy="770.3" r="14.2" fill="#e31515" stroke="#fff" stroke-width="2.6"/>
<text x="681.6" y="782.5" font-size="33" font-weight="bold" fill="#fff" stroke="#fff" stroke-width="1.8" text-anchor="middle">+</text>
<circle cx="790.9" cy="792.2" r="14.2" fill="#e31515" stroke="#fff" stroke-width="2.6"/>
<text x="790.9" y="804.4" font-size="33" font-weight="bold" fill="#fff" stroke="#fff" stroke-width="1.8" text-anchor="middle">+</text>
<circle cx="899.6" cy="816.4" r="14.2" fill="#e31515" stroke="#fff" stroke-width="2.6"/>
<text x="899.6" y="828.6" font-size="33" font-weight="bold" fill="#fff" stroke="#fff" stroke-width="1.8" text-anchor="middle">+</text>
<circle cx="411.3" cy="838" r="14.3" fill="#0f3bdc" stroke="#e6ec6a" stroke-width="2.6"/>
<text x="411.3" y="846.7" font-size="26" font-weight="bold" fill="#efe84f" stroke="#efe84f" stroke-width="1.8" text-anchor="middle">−</text>
<circle cx="511.2" cy="836.5" r="14.3" fill="#0f3bdc" stroke="#e6ec6a" stroke-width="2.6"/>
<text x="511.2" y="845.2" font-size="26" font-weight="bold" fill="#efe84f" stroke="#efe84f" stroke-width="1.8" text-anchor="middle">−</text>
<circle cx="623.2" cy="841" r="14.3" fill="#0f3bdc" stroke="#e6ec6a" stroke-width="2.6"/>
<text x="623.2" y="849.7" font-size="26" font-weight="bold" fill="#efe84f" stroke="#efe84f" stroke-width="1.8" text-anchor="middle">−</text>
<circle cx="730.3" cy="839" r="14.3" fill="#0f3bdc" stroke="#e6ec6a" stroke-width="2.6"/>
<text x="730.3" y="847.7" font-size="26" font-weight="bold" fill="#efe84f" stroke="#efe84f" stroke-width="1.8" text-anchor="middle">−</text>
<circle cx="840.5" cy="842.7" r="14.3" fill="#0f3bdc" stroke="#e6ec6a" stroke-width="2.6"/>
<text x="840.5" y="851.4" font-size="26" font-weight="bold" fill="#efe84f" stroke="#efe84f" stroke-width="1.8" text-anchor="middle">−</text>
<circle cx="1001" cy="842" r="14.2" fill="#e31515" stroke="#fff" stroke-width="2.6"/>
<text x="1001" y="854.2" font-size="33" font-weight="bold" fill="#fff" stroke="#fff" stroke-width="1.8" text-anchor="middle">+</text>
<circle cx="1050.8" cy="843" r="14.3" fill="#0f3bdc" stroke="#e6ec6a" stroke-width="2.6"/>
<text x="1050.8" y="851.7" font-size="26" font-weight="bold" fill="#efe84f" stroke="#efe84f" stroke-width="1.8" text-anchor="middle">−</text>
<circle cx="1100.4" cy="839" r="14.2" fill="#e31515" stroke="#fff" stroke-width="2.6"/>
<text x="1100.4" y="851.2" font-size="33" font-weight="bold" fill="#fff" stroke="#fff" stroke-width="1.8" text-anchor="middle">+</text>
<circle cx="1152.8" cy="840" r="14.3" fill="#0f3bdc" stroke="#e6ec6a" stroke-width="2.6"/>
<text x="1152.8" y="848.7" font-size="26" font-weight="bold" fill="#efe84f" stroke="#efe84f" stroke-width="1.8" text-anchor="middle">−</text>
<circle cx="1204.1" cy="837.3" r="14.2" fill="#e31515" stroke="#fff" stroke-width="2.6"/>
<text x="1204.1" y="849.5" font-size="33" font-weight="bold" fill="#fff" stroke="#fff" stroke-width="1.8" text-anchor="middle">+</text>
<circle cx="1261.1" cy="840" r="14.3" fill="#0f3bdc" stroke="#e6ec6a" stroke-width="2.6"/>
<text x="1261.1" y="848.7" font-size="26" font-weight="bold" fill="#efe84f" stroke="#efe84f" stroke-width="1.8" text-anchor="middle">−</text>
<circle cx="1310.2" cy="837.3" r="14.2" fill="#e31515" stroke="#fff" stroke-width="2.6"/>
<text x="1310.2" y="849.5" font-size="33" font-weight="bold" fill="#fff" stroke="#fff" stroke-width="1.8" text-anchor="middle">+</text>
<circle cx="1367.2" cy="835.9" r="14.3" fill="#0f3bdc" stroke="#e6ec6a" stroke-width="2.6"/>
<text x="1367.2" y="844.6" font-size="26" font-weight="bold" fill="#efe84f" stroke="#efe84f" stroke-width="1.8" text-anchor="middle">−</text>
<circle cx="1417.8" cy="836.9" r="14.2" fill="#e31515" stroke="#fff" stroke-width="2.6"/>
<text x="1417.8" y="849.1" font-size="33" font-weight="bold" fill="#fff" stroke="#fff" stroke-width="1.8" text-anchor="middle">+</text>
<path d="M301 275 L396.3 366.5" stroke="#fff" stroke-width="5" fill="none"/>
<path d="M405 374.8 L391.4 368.7 L398.4 361.5 Z" fill="#fff" stroke="#fff" stroke-width="2.4" stroke-linejoin="miter"/>
<path d="M301 275 L408 631.5" stroke="#fff" stroke-width="5" fill="none"/>
<path d="M411.5 643 L402.7 631 L412.3 628.2 Z" fill="#fff" stroke="#fff" stroke-width="2.4" stroke-linejoin="miter"/>
<path d="M303.3 877 L409.2 522" stroke="#fff" stroke-width="5" fill="none"/>
<path d="M412.6 510.5 L413.4 525.3 L403.8 522.5 Z" fill="#fff" stroke="#fff" stroke-width="2.4" stroke-linejoin="miter"/>
<path d="M303.3 877 L402.6 786.7" stroke="#fff" stroke-width="5" fill="none"/>
<path d="M411.5 778.6 L404.5 791.7 L397.8 784.3 Z" fill="#fff" stroke="#fff" stroke-width="2.4" stroke-linejoin="miter"/>
<path d="M301 275 L396.3 366.5" stroke="#000" stroke-width="2.6" fill="none"/>
<path d="M405 374.8 L391.4 368.7 L398.4 361.5 Z" fill="#000"/>
<path d="M301 275 L408 631.5" stroke="#000" stroke-width="2.6" fill="none"/>
<path d="M411.5 643 L402.7 631 L412.3 628.2 Z" fill="#000"/>
<path d="M303.3 877 L409.2 522" stroke="#000" stroke-width="2.6" fill="none"/>
<path d="M412.6 510.5 L413.4 525.3 L403.8 522.5 Z" fill="#000"/>
<path d="M303.3 877 L402.6 786.7" stroke="#000" stroke-width="2.6" fill="none"/>
<path d="M411.5 778.6 L404.5 791.7 L397.8 784.3 Z" fill="#000"/>
<path d="M1643 336.3 L1443.4 314.7" stroke="#fff" stroke-width="5.8" fill="none"/>
<path d="M1430 313.3 L1445.9 310 L1444.9 319.9 Z" fill="#fff" stroke="#fff" stroke-width="2.4" stroke-linejoin="miter"/>
<path d="M1643 336.3 L1432.9 558.4" stroke="#fff" stroke-width="5.8" fill="none"/>
<path d="M1423.6 568.2 L1430.6 553.5 L1437.9 560.4 Z" fill="#fff" stroke="#fff" stroke-width="2.4" stroke-linejoin="miter"/>
<path d="M1643 831.7 L1454.4 722.6" stroke="#fff" stroke-width="5.8" fill="none"/>
<path d="M1442.7 715.8 L1458.6 719.2 L1453.6 727.9 Z" fill="#fff" stroke="#fff" stroke-width="2.4" stroke-linejoin="miter"/>
<path d="M1643 831.7 L1460.4 854.2" stroke="#fff" stroke-width="5.8" fill="none"/>
<path d="M1447 855.9 L1461.8 849 L1463 859 Z" fill="#fff" stroke="#fff" stroke-width="2.4" stroke-linejoin="miter"/>
<path d="M1643 336.3 L1443.4 314.7" stroke="#000" stroke-width="3.4" fill="none"/>
<path d="M1430 313.3 L1445.9 310 L1444.9 319.9 Z" fill="#000"/>
<path d="M1643 336.3 L1432.9 558.4" stroke="#000" stroke-width="3.4" fill="none"/>
<path d="M1423.6 568.2 L1430.6 553.5 L1437.9 560.4 Z" fill="#000"/>
<path d="M1643 831.7 L1454.4 722.6" stroke="#000" stroke-width="3.4" fill="none"/>
<path d="M1442.7 715.8 L1458.6 719.2 L1453.6 727.9 Z" fill="#000"/>
<path d="M1643 831.7 L1460.4 854.2" stroke="#000" stroke-width="3.4" fill="none"/>
<path d="M1447 855.9 L1461.8 849 L1463 859 Z" fill="#000"/>
<path d="M241.3 555.7 H267 V542.8 L289.8 569 L267 595.1 V581.4 H241.3 Z" fill="#0f52f0"/>
<path d="M1724.8 559.6 H1748.6 V546 L1770.4 571.7 L1748.6 597.3 V584.2 H1724.8 Z" fill="#1a9cf2"/>
<path d="M1558 884.7 H1580.6 V907.1 H1592.4 L1569.2 927 L1546.5 907.1 H1558 Z" fill="#2311c4"/>
<rect x="14.3" y="720.7" width="143.6" height="42" rx="21" ry="21" fill="#1780f2"/>
<text x="717.8" y="102.2" font-size="44" fill="#000" textLength="478.3" lengthAdjust="spacingAndGlyphs" stroke="#000" stroke-width="0.8">Electrodeionization (EDI)</text>
<text x="889.4" y="262.6" font-size="24.5" fill="#fff" font-weight="bold" textLength="88" lengthAdjust="spacingAndGlyphs">Anode</text>
<text x="868.6" y="900.5" font-size="25.3" fill="#fff" font-weight="bold" textLength="116.7" lengthAdjust="spacingAndGlyphs">Cathode</text>
<text x="277.7" y="248.1" font-size="20" fill="#87870f" font-weight="bold" textLength="44" lengthAdjust="spacingAndGlyphs">AEM</text>
<text x="248.3" y="271.6" font-size="20.5" fill="#000" textLength="108.2" lengthAdjust="spacingAndGlyphs">(Anion Pass)</text>
<text x="279.8" y="902.8" font-size="20" fill="#d41a1a" font-weight="bold" textLength="43.7" lengthAdjust="spacingAndGlyphs">CEM</text>
<text x="242.1" y="926.5" font-size="20.5" fill="#000" textLength="114.8" lengthAdjust="spacingAndGlyphs">(Cation pass)</text>
<text x="105.1" y="577.1" font-size="36" fill="#1b4f9f" font-weight="bold" textLength="130.5" lengthAdjust="spacingAndGlyphs">Feed water</text>
<text x="24.3" y="748.2" font-size="24.5" fill="#f0f060" font-weight="bold" textLength="126.5" lengthAdjust="spacingAndGlyphs" stroke="#2a5a30" stroke-width="0.6" paint-order="stroke">Power supply</text>
<text x="1777.2" y="561.5" font-size="31" fill="#1a6fd2" font-weight="bold" textLength="181.6" lengthAdjust="spacingAndGlyphs">Deionized water</text>
<text x="1777.2" y="595" font-size="27" fill="#1a6fd2" font-weight="bold" textLength="174.8" lengthAdjust="spacingAndGlyphs">(Ultra pure water)</text>
<text x="1648.2" y="344" font-size="24" fill="#000" font-weight="bold" textLength="36" lengthAdjust="spacingAndGlyphs">Ion</text>
<text x="1647" y="839.7" font-size="24" fill="#000" font-weight="bold" letter-spacing="0.9" word-spacing="4.5">Ion exchange resins</text>
<text x="1472.8" y="961.2" font-size="32" fill="#2a12a8" font-weight="bold" textLength="184.3" lengthAdjust="spacingAndGlyphs">Concentrate water</text>
<text x="1046" y="956.2" font-size="23.6" fill="#7f8a12" font-weight="bold" textLength="47" lengthAdjust="spacingAndGlyphs">AEM</text>
<text x="1103.6" y="954.6" font-size="22" fill="#7f8a12" font-weight="bold">:</text>
<text y="956.1" font-size="20.3" fill="#7f8a12"><tspan x="1118.5" textLength="157.8" lengthAdjust="spacingAndGlyphs">Anion-Exchange</tspan> <tspan x="1288.2" textLength="103.6" lengthAdjust="spacingAndGlyphs">Membrane</tspan></text>
<text x="1046" y="983" font-size="23.6" fill="#c81c1c" font-weight="bold" textLength="48" lengthAdjust="spacingAndGlyphs">CEM</text>
<text x="1103.6" y="981.5" font-size="22" fill="#c81c1c">:</text>
<text y="982.9" font-size="20.3" fill="#c81c1c"><tspan x="1116.8" textLength="163.7" lengthAdjust="spacingAndGlyphs">Cation-Exchange</tspan> <tspan x="1292" textLength="103.6" lengthAdjust="spacingAndGlyphs">Membrane</tspan></text>
<text x="912.1" y="223.8" font-size="54" fill="#000" text-anchor="middle" stroke="#000" stroke-width="0.7">+</text>
<text x="907.5" y="955.7" font-size="42" fill="#000" font-weight="bold" text-anchor="middle">−</text>
<text x="90.8" y="720.3" font-size="45" fill="#000" text-anchor="middle" stroke="#000" stroke-width="0.5">+</text>
<text x="90.4" y="784.2" font-size="38" fill="#000" font-weight="bold" text-anchor="middle">−</text>
</svg></body></html>
